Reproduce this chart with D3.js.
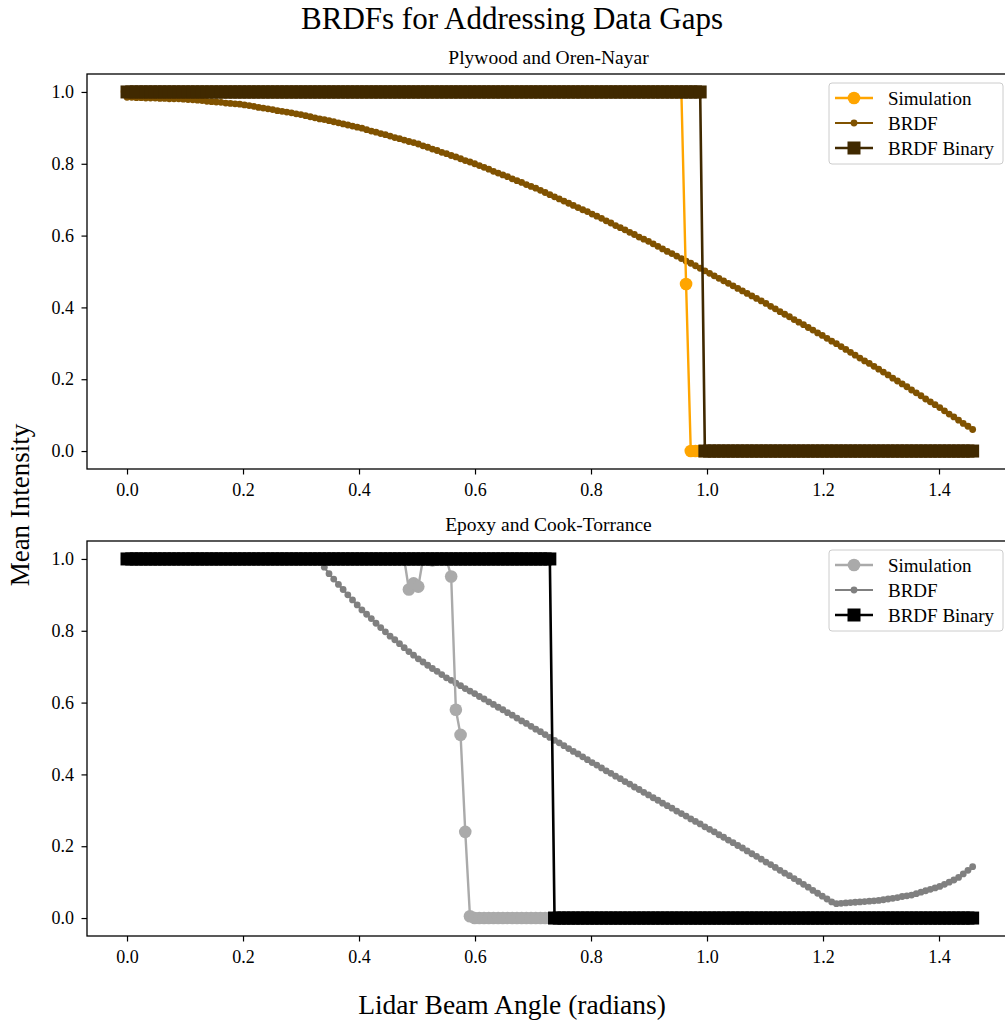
<!DOCTYPE html>
<html>
<head>
<meta charset="utf-8">
<script src="https://cdn.jsdelivr.net/npm/d3@7"></script>
<style>
    body { margin: 0; background: #fff; }
    text { font-family: "Liberation Serif", "DejaVu Serif", serif; fill: #000; }
</style>
</head>
<body>
<script>
// sample grid of the lidar beam angle (radians)
var angleStep = 0.0081;
var angles = d3.range(181).map(function (i) { return i * angleStep; });

var xTicks = [0, 0.2, 0.4, 0.6, 0.8, 1.0, 1.2, 1.4];
var yTicks = [0, 0.2, 0.4, 0.6, 0.8, 1.0];
var seriesNames = ["Simulation", "BRDF", "BRDF Binary"];

// Plywood and Oren-Nayar
var plywoodSim = [
    1,1,1,1,1,1,1,1,1,1, 1,1,1,1,1,1,1,1,1,1,
    1,1,1,1,1,1,1,1,1,1, 1,1,1,1,1,1,1,1,1,1,
    1,1,1,1,1,1,1,1,1,1, 1,1,1,1,1,1,1,1,1,1,
    1,1,1,1,1,1,1,1,1,1, 1,1,1,1,1,1,1,1,1,1,
    1,1,1,1,1,1,1,1,1,1, 1,1,1,1,1,1,1,1,1,1,
    1,1,1,1,1,1,1,1,1,1, 1,1,1,1,1,1,1,1,1,0.465,
    0,0,0,0,0,0,0,0,0,0, 0,0,0,0,0,0,0,0,0,0,
    0,0,0,0,0,0,0,0,0,0, 0,0,0,0,0,0,0,0,0,0,
    0,0,0,0,0,0,0,0,0,0, 0,0,0,0,0,0,0,0,0,0,
    0
];
var plywoodBrdf = [
    0.985, 0.985, 0.984, 0.984, 0.983, 0.983, 0.983, 0.982, 0.982, 0.981, 0.981, 0.981, 0.980,
    0.979, 0.978, 0.977, 0.976, 0.974, 0.973, 0.972, 0.971, 0.969, 0.968, 0.967, 0.966,
    0.964, 0.962, 0.960, 0.957, 0.955, 0.953, 0.951, 0.948, 0.946, 0.944, 0.942, 0.939, 0.937,
    0.934, 0.931, 0.928, 0.925, 0.923, 0.920, 0.917, 0.914, 0.911, 0.908, 0.905, 0.902,
    0.899, 0.895, 0.891, 0.888, 0.884, 0.881, 0.877, 0.873, 0.870, 0.866, 0.862, 0.859,
    0.855, 0.850, 0.846, 0.841, 0.837, 0.832, 0.828, 0.823, 0.819, 0.814, 0.809, 0.805, 0.800,
    0.795, 0.790, 0.785, 0.779, 0.774, 0.769, 0.764, 0.758, 0.753, 0.748, 0.742, 0.737,
    0.732, 0.726, 0.720, 0.714, 0.708, 0.702, 0.696, 0.690, 0.684, 0.678, 0.672, 0.667,
    0.660, 0.654, 0.648, 0.641, 0.635, 0.628, 0.622, 0.616, 0.609, 0.603, 0.596, 0.590, 0.584,
    0.577, 0.570, 0.563, 0.556, 0.550, 0.543, 0.536, 0.529, 0.523, 0.516, 0.509, 0.502,
    0.495, 0.488, 0.481, 0.474, 0.467, 0.460, 0.453, 0.446, 0.439, 0.432, 0.425, 0.418,
    0.411, 0.403, 0.396, 0.388, 0.381, 0.374, 0.366, 0.359, 0.352, 0.344, 0.337, 0.329, 0.322,
    0.314, 0.306, 0.299, 0.291, 0.283, 0.275, 0.267, 0.259, 0.251, 0.244, 0.236, 0.228,
    0.220, 0.212, 0.203, 0.195, 0.187, 0.179, 0.170, 0.162, 0.154, 0.145, 0.137, 0.129,
    0.121, 0.112, 0.103, 0.095, 0.086, 0.077, 0.069, 0.060
];
var plywoodBinary = [
    1,1,1,1,1,1,1,1,1,1, 1,1,1,1,1,1,1,1,1,1,
    1,1,1,1,1,1,1,1,1,1, 1,1,1,1,1,1,1,1,1,1,
    1,1,1,1,1,1,1,1,1,1, 1,1,1,1,1,1,1,1,1,1,
    1,1,1,1,1,1,1,1,1,1, 1,1,1,1,1,1,1,1,1,1,
    1,1,1,1,1,1,1,1,1,1, 1,1,1,1,1,1,1,1,1,1,
    1,1,1,1,1,1,1,1,1,1, 1,1,1,1,1,1,1,1,1,1,
    1,1,1,0,0,0,0,0,0,0, 0,0,0,0,0,0,0,0,0,0,
    0,0,0,0,0,0,0,0,0,0, 0,0,0,0,0,0,0,0,0,0,
    0,0,0,0,0,0,0,0,0,0, 0,0,0,0,0,0,0,0,0,0,
    0
];

// Epoxy and Cook-Torrance
var epoxySim = [
    1,1,1,1,1,1,1,1,1,1, 1,1,1,1,1,1,1,1,1,1,
    1,1,1,1,1,1,1,1,1,1, 1,1,1,1,1,1,1,1,1,1,
    1,1,1,1,1,1,1,1,1,1, 1,1,1,1,1,1,1,1,1,1,
    0.915,0.932,0.923,1,1,0.996,1,1,1,0.951, 0.58,0.51,0.24,0.005,0,0,0,0,0,0,
    0,0,0,0,0,0,0,0,0,0, 0,0,0,0,0,0,0,0,0,0,
    0,0,0,0,0,0,0,0,0,0, 0,0,0,0,0,0,0,0,0,0,
    0,0,0,0,0,0,0,0,0,0, 0,0,0,0,0,0,0,0,0,0,
    0,0,0,0,0,0,0,0,0,0, 0,0,0,0,0,0,0,0,0,0,
    0,0,0,0,0,0,0,0,0,0, 0,0,0,0,0,0,0,0,0,0,
    0
];
// BRDF curve only shows from sample 41 on (above the plot before that)
var epoxyBrdfStart = 41;
var epoxyBrdf = [
    0.995, 0.977, 0.959,
    0.944, 0.929, 0.915, 0.900, 0.886, 0.872,
    0.858, 0.846, 0.834, 0.821, 0.809, 0.797,
    0.785, 0.775, 0.764, 0.753, 0.742, 0.732,
    0.722, 0.713, 0.704, 0.695, 0.687, 0.678,
    0.669, 0.662, 0.654, 0.647, 0.639, 0.632, 0.625,
    0.617, 0.610, 0.602, 0.595, 0.587, 0.580,
    0.572, 0.565, 0.557, 0.549, 0.542, 0.534,
    0.526, 0.519, 0.511, 0.503, 0.495, 0.488,
    0.480, 0.472, 0.464, 0.457, 0.449, 0.441,
    0.433, 0.426, 0.418, 0.410, 0.403, 0.395,
    0.388, 0.380, 0.373, 0.365, 0.358, 0.350, 0.343,
    0.335, 0.328, 0.320, 0.313, 0.306, 0.298,
    0.291, 0.284, 0.276, 0.269, 0.262, 0.254,
    0.247, 0.240, 0.232, 0.225, 0.217, 0.210,
    0.202, 0.195, 0.187, 0.179, 0.172, 0.164,
    0.156, 0.149, 0.141, 0.133, 0.125, 0.118,
    0.110, 0.102, 0.094, 0.086, 0.077, 0.069, 0.061,
    0.053, 0.045,
    0.040, 0.041, 0.042, 0.043,
    0.044, 0.045, 0.046, 0.047, 0.048, 0.049,
    0.051, 0.053, 0.055, 0.057, 0.060, 0.062,
    0.064, 0.068, 0.072, 0.076, 0.080, 0.084,
    0.088, 0.094, 0.100, 0.106,
    0.113, 0.123, 0.133, 0.143
];
var epoxyBinary = [
    1,1,1,1,1,1,1,1,1,1, 1,1,1,1,1,1,1,1,1,1,
    1,1,1,1,1,1,1,1,1,1, 1,1,1,1,1,1,1,1,1,1,
    1,1,1,1,1,1,1,1,1,1, 1,1,1,1,1,1,1,1,1,1,
    1,1,1,1,1,1,1,1,1,1, 1,1,1,1,1,1,1,1,1,1,
    1,1,1,1,1,1,1,1,1,1, 1,0,0,0,0,0,0,0,0,0,
    0,0,0,0,0,0,0,0,0,0, 0,0,0,0,0,0,0,0,0,0,
    0,0,0,0,0,0,0,0,0,0, 0,0,0,0,0,0,0,0,0,0,
    0,0,0,0,0,0,0,0,0,0, 0,0,0,0,0,0,0,0,0,0,
    0,0,0,0,0,0,0,0,0,0, 0,0,0,0,0,0,0,0,0,0,
    0
];

var plywoodColors = ["#ffa500", "#805200", "#402900"];
var epoxyColors = ["#aaaaaa", "#808080", "#000000"];

[plywoodSim, plywoodBrdf, plywoodBinary, epoxySim, epoxyBinary].forEach(function (a) {
    if (a.length !== angles.length) throw new Error("bad length " + a.length);
});
if (epoxyBrdf.length + epoxyBrdfStart !== angles.length) throw new Error("bad epoxy brdf length");

var width = 1005, height = 1023;
var svg = d3.select("body").append("svg")
    .attr("width", width)
    .attr("height", height);

// Set the ranges
var plotLeft = 87, plotRight = 1010, plotHeight = 395;
var x = d3.scaleLinear().domain([-0.069, 1.5224]).range([plotLeft, plotRight]);

var toPoints = function (values, start) {
    return values.map(function (v, i) { return { x: angles[i + start], y: v }; });
};

var drawPanel = function (top, title, sim, brdf, brdfStart, binary, colors, idx) {
    var y = d3.scaleLinear().domain([-0.05, 1.05]).range([top + plotHeight, top]);

    var g = svg.append("g");

    g.append("clipPath")
        .attr("id", "clip" + idx)
        .append("rect")
        .attr("x", plotLeft)
        .attr("y", top)
        .attr("width", plotRight - plotLeft)
        .attr("height", plotHeight);

    var line = d3.line()
        .x(function (d) { return x(d.x); })
        .y(function (d) { return y(d.y); });

    var plot = g.append("g").attr("clip-path", "url(#clip" + idx + ")");

    var brdfPts = toPoints(brdf, brdfStart);
    plot.append("path")
        .datum(brdfPts)
        .attr("fill", "none")
        .attr("stroke", colors[1])
        .attr("stroke-width", 2)
        .attr("d", line);
    plot.append("g").selectAll("circle")
        .data(brdfPts)
        .enter().append("circle")
        .attr("cx", function (d) { return x(d.x); })
        .attr("cy", function (d) { return y(d.y); })
        .attr("r", 3.4)
        .attr("fill", colors[1]);

    var simPts = toPoints(sim, 0);
    plot.append("path")
        .datum(simPts)
        .attr("fill", "none")
        .attr("stroke", colors[0])
        .attr("stroke-width", 2.4)
        .attr("stroke-linejoin", "round")
        .attr("d", line);
    plot.append("g").selectAll("circle")
        .data(simPts)
        .enter().append("circle")
        .attr("cx", function (d) { return x(d.x); })
        .attr("cy", function (d) { return y(d.y); })
        .attr("r", 6.3)
        .attr("fill", colors[0]);

    var binPts = toPoints(binary, 0);
    plot.append("path")
        .datum(binPts)
        .attr("fill", "none")
        .attr("stroke", colors[2])
        .attr("stroke-width", 2.6)
        .attr("d", line);
    plot.append("g").selectAll("rect")
        .data(binPts)
        .enter().append("rect")
        .attr("x", function (d) { return x(d.x) - 6.5; })
        .attr("y", function (d) { return y(d.y) - 6.5; })
        .attr("width", 13)
        .attr("height", 13)
        .attr("fill", colors[2]);

    // frame
    g.append("rect")
        .attr("x", plotLeft)
        .attr("y", top)
        .attr("width", plotRight - plotLeft)
        .attr("height", plotHeight)
        .attr("fill", "none")
        .attr("stroke", "#000")
        .attr("stroke-width", 1.3);

    var xAxis = g.append("g")
        .attr("transform", "translate(0," + (top + plotHeight) + ")")
        .call(d3.axisBottom(x).tickValues(xTicks).tickFormat(d3.format(".1f"))
            .tickSize(5.5).tickPadding(9));
    var yAxis = g.append("g")
        .attr("transform", "translate(" + plotLeft + ",0)")
        .call(d3.axisLeft(y).tickValues(yTicks).tickFormat(d3.format(".1f"))
            .tickSize(5.5).tickPadding(7.5));
    [xAxis, yAxis].forEach(function (a) {
        a.select(".domain").remove();
        a.selectAll("line").attr("stroke", "#000").attr("stroke-width", 1.2);
        a.selectAll("text")
            .style("font-family", '"Liberation Serif", serif')
            .style("font-size", "18px")
            .attr("fill", "#000");
    });

    g.append("text")
        .attr("x", (plotLeft + plotRight) / 2)
        .attr("y", top - 10)
        .attr("text-anchor", "middle")
        .style("font-size", "19.5px")
        .text(title);

    // legend
    var lx = 829, ly = top + 9;
    g.append("rect")
        .attr("x", lx)
        .attr("y", ly)
        .attr("width", 174)
        .attr("height", 81)
        .attr("rx", 3)
        .attr("fill", "#fff")
        .attr("fill-opacity", 0.8)
        .attr("stroke", "#cccccc")
        .attr("stroke-width", 1);

    seriesNames.forEach(function (name, k) {
        var cy = ly + 15 + k * 25;
        var item = g.append("g");
        item.append("line")
            .attr("x1", lx + 6).attr("x2", lx + 44)
            .attr("y1", cy).attr("y2", cy)
            .attr("stroke", colors[k])
            .attr("stroke-width", k === 1 ? 2 : 2.5);
        if (k === 0) {
            item.append("circle").attr("cx", lx + 25).attr("cy", cy).attr("r", 6.3).attr("fill", colors[k]);
        } else if (k === 1) {
            item.append("circle").attr("cx", lx + 25).attr("cy", cy).attr("r", 3.4).attr("fill", colors[k]);
        } else {
            item.append("rect").attr("x", lx + 25 - 6.5).attr("y", cy - 6.5)
                .attr("width", 13).attr("height", 13).attr("fill", colors[k]);
        }
        item.append("text")
            .attr("x", lx + 59)
            .attr("y", cy + 6.5)
            .style("font-size", "19px")
            .text(name);
    });
};

drawPanel(74, "Plywood and Oren-Nayar", plywoodSim, plywoodBrdf, 0, plywoodBinary, plywoodColors, 0);
drawPanel(541, "Epoxy and Cook-Torrance", epoxySim, epoxyBrdf, epoxyBrdfStart, epoxyBinary, epoxyColors, 1);

svg.append("text")
    .attr("x", 512)
    .attr("y", 29)
    .attr("text-anchor", "middle")
    .style("font-size", "31px")
    .text("BRDFs for Addressing Data Gaps");

svg.append("text")
    .attr("x", 512)
    .attr("y", 1014)
    .attr("text-anchor", "middle")
    .style("font-size", "27.5px")
    .text("Lidar Beam Angle (radians)");

svg.append("text")
    .attr("transform", "translate(29,505) rotate(-90)")
    .attr("text-anchor", "middle")
    .style("font-size", "27px")
    .text("Mean Intensity");
</script>
</body>
</html>
